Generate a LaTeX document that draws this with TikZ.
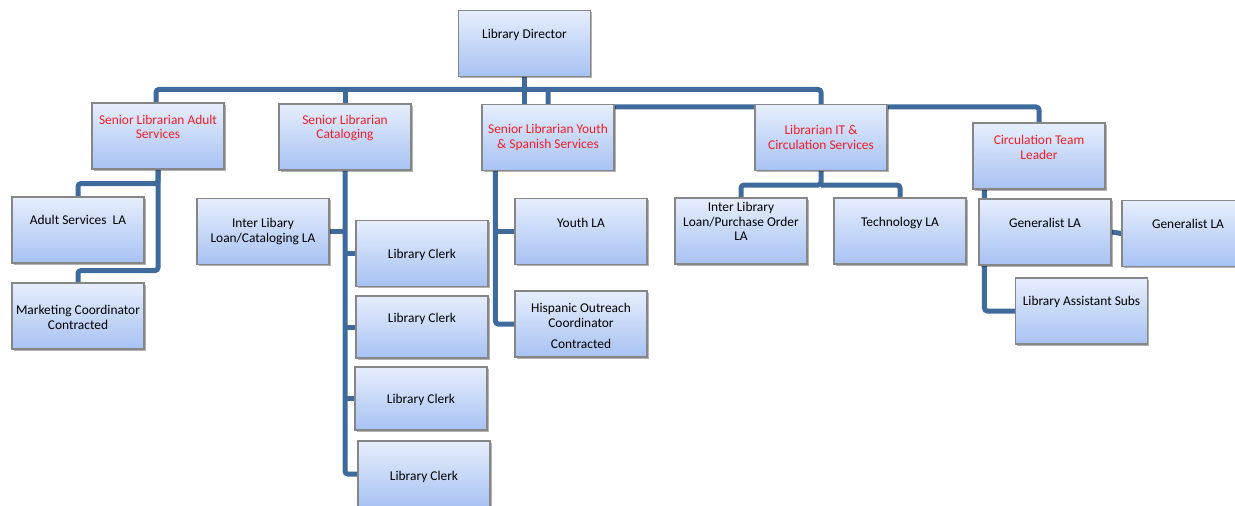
\documentclass[tikz,border=0pt]{standalone}
\usepackage{fontspec}
\setmainfont{Carlito}
\usetikzlibrary{shadows,backgrounds}
\definecolor{boxtop}{HTML}{E6EEFC}
\definecolor{boxbot}{HTML}{A7C2F3}
\definecolor{boxline}{HTML}{868686}
\definecolor{linkblue}{HTML}{3F6A9C}
\definecolor{headred}{HTML}{F01E28}
\tikzset{
  orgbox/.style={rectangle, draw=boxline, line width=1.1pt, top color=boxtop,
    bottom color=boxbot, minimum width=132pt, minimum height=66pt, inner sep=0pt,
    drop shadow={shadow xshift=1.8pt, shadow yshift=-1.8pt, opacity=0.3, fill=black}},
  lbl/.style={inner sep=0pt, align=center, text=black, yshift=-1.5pt,
    font=\fontsize{13.4}{14.5}\selectfont},
  head/.style={lbl, text=headred},
  conn/.style={draw=linkblue, line width=5pt, rounded corners=3pt}
}
\begin{document}
\begin{tikzpicture}[x=1pt, y=-1pt]
\useasboundingbox (0,0) rectangle (1235,506);

% boxes
\node[orgbox] (dir)   at (524.5,43.5) {};
\node[orgbox] (adult) at (158,136) {};
\node[orgbox] (cat)   at (345,137) {};
\node[orgbox] (youth) at (548,137.5) {};
\node[orgbox] (it)    at (821,137.5) {};
\node[orgbox] (circ)  at (1039,156) {};
\node[orgbox] (ala)   at (78,230) {};
\node[orgbox] (mkt)   at (78,316) {};
\node[orgbox] (ill)   at (263,231.5) {};
\node[orgbox] (clk1)  at (422,253.5) {};
\node[orgbox, minimum height=62pt] (clk2) at (422,327) {};
\node[orgbox, minimum height=63pt] (clk3) at (421,398.5) {};
\node[orgbox] (clk4)  at (424,474) {};
\node[orgbox] (yla)   at (581,231.5) {};
\node[orgbox] (hisp)  at (581,324) {};
\node[orgbox] (illpo) at (741,231) {};
\node[orgbox] (tech)  at (900,231) {};
\node[orgbox] (gen1)  at (1045,232) {};
\node[orgbox] (gen2)  at (1188,233.5) {};
\node[orgbox] (subs)  at (1081.5,311) {};

% labels
\node[lbl]  (dir-t)   at (524.5,33) {Library Director};
\node[head] (adult-t) at (158,125.5) {Senior Librarian Adult\\Services};
\node[head] (cat-t)   at (345,126.5) {Senior Librarian\\Cataloging};
\node[head] (youth-t) at (548,136) {Senior Librarian Youth\\\& Spanish Services};
\node[head] (it-t)    at (821,136) {Librarian IT \&\\Circulation Services};
\node[head] (circ-t)  at (1039,146) {Circulation Team\\Leader};
\node[lbl]  (ala-t)   at (78,218) {Adult Services\ \ LA};
\node[lbl]  (mkt-t)   at (78,316) {Marketing Coordinator\\Contracted};
\node[lbl]  (ill-t)   at (263,230) {Inter Libary\\Loan/Cataloging LA};
\node[lbl]  (clk1-t)  at (422,253) {Library Clerk};
\node[lbl]  (clk2-t)  at (422,317) {Library Clerk};
\node[lbl]  (clk3-t)  at (421,398) {Library Clerk};
\node[lbl]  (clk4-t)  at (424,475) {Library Clerk};
\node[lbl]  (yla-t)   at (581,221) {Youth LA};
\node[lbl]  (hisp-t)  at (581,324.5) {Hispanic Outreach\\Coordinator\\[6.5pt]Contracted};
\node[lbl]  (illpo-t) at (741,220) {Inter Library\\Loan/Purchase Order\\LA};
\node[lbl]  (tech-t)  at (900,221) {Technology LA};
\node[lbl]  (gen1-t)  at (1045,221) {Generalist LA};
\node[lbl]  (gen2-t)  at (1188,222) {Generalist LA};
\node[lbl]  (subs-t)  at (1081.5,300) {Library Assistant Subs};

% connectors, kept behind the boxes
\begin{scope}[on background layer]
  \draw[conn] (dir.south) -- (dir.south |- youth.north);
  \draw[conn] ([xshift=-2pt]adult.north) -- ++(0,-13) -| (it.north);
  \draw[conn] (cat.north) -- ++(0,-15);
  \draw[conn] (youth.north) ++(0,-15) -- ++(0,18) -| (circ.north);

  \draw[conn] (adult.south) -- ++(0,14) -| (ala.north);
  \draw[conn] (adult.south) -- ++(0,101) -| (mkt.north);

  \draw[conn] (cat.south) |- (clk4.west);
  \draw[conn] (ill.east) -- (ill.east -| cat.south);
  \draw[conn] (clk1.west) -- (clk1.west -| cat.south);
  \draw[conn] (clk2.west) -- (clk2.west -| cat.south);
  \draw[conn] (clk3.west) -- (clk3.west -| cat.south);

  \draw[conn] ([xshift=14pt]youth.south west) |- (hisp.west);
  \draw[conn] (yla.west) -- ++(-19,0);

  \draw[conn] (it.south) -- ++(0,14) -| (illpo.north);
  \draw[conn] (it.south) ++(0,14) -| (tech.north);

  \draw[conn] ([xshift=12pt]circ.south west) |- (subs.west);
  \draw[conn] (gen1.east) -- (gen2.west);
\end{scope}
\end{tikzpicture}
\end{document}
